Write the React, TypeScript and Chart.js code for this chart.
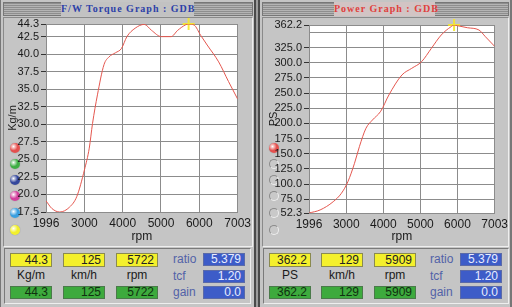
import React, { useEffect, useRef } from "react";
import { Chart, registerables } from "chart.js";

Chart.register(...registerables);

// ---- data ----
const rpmTicks = [1996, 3000, 4000, 5000, 6000, 7003];
const torqueTicks = [17.5, 20, 22.5, 25, 27.5, 30, 32.5, 35, 37.5, 40, 42.5, 44.3];
const powerTicks = [52.3, 75, 100, 125, 150, 175, 200, 225, 250, 275, 300, 325, 350, 362.2];
const powerUnlabelled = [350];

const torqueRpm = [1996, 2150, 2356, 2612, 2800, 3000, 3126, 3211, 3340, 3511, 3640, 3811, 3966, 4110, 4325, 4564, 4752, 5008, 5265, 5437, 5650, 5722, 5866, 6035, 6207, 6507, 6764, 7003];
const torqueVals = [19.1, 18.0, 17.5, 18.2, 19.7, 23.5, 26.6, 30.1, 34.2, 38.5, 39.6, 40.2, 40.8, 42.5, 43.7, 44.25, 43.4, 42.5, 42.5, 43.4, 44.2, 44.3, 44.15, 42.7, 41.3, 38.9, 36.1, 33.6];

const powerRpm = [1996, 2295, 2648, 2870, 3045, 3223, 3355, 3532, 3707, 3930, 4150, 4502, 4767, 5032, 5297, 5562, 5827, 5909, 6004, 6269, 6579, 6754, 7003];
const powerVals = [52.3, 57.3, 70.9, 84.8, 103.9, 134.2, 161.6, 191.9, 205.6, 220, 246.8, 279.8, 290.8, 301.7, 323.8, 345.7, 359.4, 362.2, 361, 357.7, 354, 342.9, 327];

const torquePeakRpm = [5722];
const torquePeakVal = [44.3];
const powerPeakRpm = [5909];
const powerPeakVal = [362.2];

const torqueReadout = ["44.3", "125", "5722"];
const torqueUnits = ["Kg/m", "km/h", "rpm"];
const powerReadout = ["362.2", "129", "5909"];
const powerUnits = ["PS", "km/h", "rpm"];
const factorNames = ["ratio", "tcf", "gain"];
const factorValues = ["5.379", "1.20", "0.0"];

const leftDotColors = ["#e4504e", "#3fae44", "#34479c", "#d2409c", "#3a9fe0", "#f2f02a"];

const FONT = "'Liberation Sans Narrow', 'Liberation Sans', Arial, sans-serif";
const PANEL = "#c5c5c5";

const bgPlugin = {
  id: "plotBg",
  beforeDraw(chart: any) {
    const { ctx, chartArea } = chart;
    if (!chartArea) return;
    ctx.save();
    ctx.fillStyle = "#ffffff";
    ctx.fillRect(chartArea.left, chartArea.top, chartArea.right - chartArea.left, chartArea.bottom - chartArea.top);
    ctx.restore();
  },
};

type Area = { left: number; right: number; top: number; bottom: number };

function DynoChart(props: {
  width: number;
  height: number;
  area: Area;
  rpm: number[];
  vals: number[];
  peakRpm: number[];
  peakVal: number[];
  yTicks: number[];
  unlabelled: number[];
  yTitle: string;
  yTitlePad: number;
}) {
  const ref = useRef<HTMLCanvasElement | null>(null);
  useEffect(() => {
    const { width: W, height: H, area, rpm, vals, yTicks, unlabelled } = props;
    const tickFont = { family: FONT, size: 11 };
    const chart = new Chart(ref.current as HTMLCanvasElement, {
      type: "line",
      data: {
        datasets: [
          {
            data: rpm.map((x, i) => ({ x, y: vals[i] })),
            borderColor: "#e4574f",
            borderWidth: 1,
            pointRadius: 0,
            cubicInterpolationMode: "monotone",
            fill: false,
          },
          {
            data: props.peakRpm.map((x, i) => ({ x, y: props.peakVal[i] })),
            showLine: false,
            pointStyle: "cross",
            pointRadius: 6,
            pointBorderWidth: 2,
            pointBorderColor: "rgba(246,232,40,0.9)",
            pointBackgroundColor: "rgba(246,232,40,0.5)",
            clip: false,
          } as any,
        ],
      },
      options: {
        animation: false,
        responsive: false,
        maintainAspectRatio: false,
        events: [],
        layout: { padding: { top: area.top, right: W - area.right, left: 0, bottom: 0 } },
        plugins: { legend: { display: false }, tooltip: { enabled: false } },
        scales: {
          x: {
            type: "linear",
            min: rpmTicks[0],
            max: rpmTicks[rpmTicks.length - 1],
            afterBuildTicks: (s: any) => {
              s.ticks = rpmTicks.map((v) => ({ value: v }));
            },
            afterFit: (s: any) => {
              s.height = H - area.bottom;
            },
            ticks: {
              autoSkip: false,
              maxRotation: 0,
              padding: 4,
              color: "#1a1a1a",
              font: { family: FONT, size: 12 },
              callback: (v: any) => String(v),
            },
            grid: { color: "#8c8c8c", drawTicks: false, lineWidth: 1 },
            border: { display: true, color: "#8c8c8c" },
            title: {
              display: true,
              text: "rpm",
              color: "#1a1a1a",
              font: { family: FONT, size: 12 },
              padding: { top: 0, bottom: 2 },
            },
          },
          y: {
            type: "linear",
            min: yTicks[0],
            max: yTicks[yTicks.length - 1],
            afterBuildTicks: (s: any) => {
              s.ticks = yTicks.map((v) => ({ value: v }));
            },
            afterFit: (s: any) => {
              s.width = area.left;
            },
            ticks: {
              autoSkip: false,
              padding: 2,
              color: "#1a1a1a",
              font: tickFont,
              callback: (v: any) => (unlabelled.includes(Number(v)) ? "" : Number(v).toFixed(1)),
            },
            grid: {
              color: "#8c8c8c",
              lineWidth: 1,
              tickLength: 5,
              tickColor: (c: any) => (c.tick && unlabelled.includes(c.tick.value) ? "rgba(0,0,0,0)" : "#333"),
            },
            border: { display: true, color: "#8c8c8c" },
            title: {
              display: true,
              text: props.yTitle,
              color: "#1a1a1a",
              font: tickFont,
              padding: { top: props.yTitlePad, bottom: 0 },
            },
          },
        },
      } as any,
      plugins: [bgPlugin],
    });
    return () => chart.destroy();
  }, []);
  return (
    <canvas
      ref={ref}
      width={props.width}
      height={props.height}
      style={{ width: props.width, height: props.height, display: "block" }}
    />
  );
}

const abs = (l: number, t: number, w: number, h: number, extra: any = {}) => ({
  position: "absolute" as const,
  left: l,
  top: t,
  width: w,
  height: h,
  boxSizing: "border-box" as const,
  ...extra,
});

function Readouts(props: {
  x0: number;
  boxLefts: number[];
  labelX: number;
  blueX: number;
  values: string[];
  units: string[];
}) {
  const numStyle = { fontFamily: FONT, fontSize: 12, textAlign: "right" as const, paddingRight: 3, lineHeight: "12px" };
  const items: any[] = [];
  props.boxLefts.forEach((bl, i) => {
    items.push(
      <div key={"y" + i} style={abs(bl, 253, 42, 14, { ...numStyle, background: "#f4f02c", color: "#222", border: "1px solid #8a8a50", lineHeight: "12px" })}>
        {props.values[i]}
      </div>
    );
    items.push(
      <div key={"u" + i} style={abs(bl, 268, 42, 14, { fontFamily: FONT, fontSize: 12, textAlign: "center", color: "#1a1a1a", lineHeight: "14px" })}>
        {props.units[i]}
      </div>
    );
    items.push(
      <div key={"g" + i} style={abs(bl, 286, 42, 13, { ...numStyle, background: "#3daa3d", color: "#103010", border: "1px solid #4a7a4a", lineHeight: "11px" })}>
        {props.values[i]}
      </div>
    );
  });
  const tops = [253, 270, 286];
  factorNames.forEach((n, i) => {
    items.push(
      <div key={"n" + i} style={abs(props.labelX, tops[i], 30, 13, { fontFamily: FONT, fontSize: 12, color: "#5262a8", lineHeight: "13px" })}>
        {n}
      </div>
    );
    items.push(
      <div key={"b" + i} style={abs(props.blueX, tops[i], 42, 13, { ...numStyle, background: "#3d5cc8", color: "#e8ecff", border: "1px solid #5a6aa8", lineHeight: "11px" })}>
        {factorValues[i]}
      </div>
    );
  });
  return <>{items}</>;
}

function Dot(props: { x: number; y: number; color?: string }) {
  const r = 5;
  if (props.color) {
    return (
      <div
        style={abs(props.x - r, props.y - r, r * 2, r * 2, {
          borderRadius: "50%",
          background: `radial-gradient(circle at 35% 35%, #ffffff 0, ${props.color} 45%, ${props.color} 100%)`,
          boxShadow: "0 0 1px rgba(0,0,0,0.4)",
        })}
      />
    );
  }
  return (
    <div
      style={abs(props.x - r, props.y - r, r * 2, r * 2, {
        borderRadius: "50%",
        border: "1px solid #8a8a8a",
        borderBottomColor: "#eee",
        borderRightColor: "#eee",
        background: "#c9c9c9",
      })}
    />
  );
}

export default function App() {
  useEffect(() => {
    document.body.style.margin = "0";
  }, []);
  const dotYs = [148, 164, 180, 196, 213, 230];
  const stripes = "repeating-linear-gradient(to bottom, #8e8e8e 0px, #8e8e8e 1px, #b4b4b4 1px, #b4b4b4 2px)";
  return (
    <div style={{ position: "fixed", left: 0, top: 0, width: 512, height: 307, background: "#9c9c9c", overflow: "hidden" }}>
      {/* panels */}
      <div style={abs(0, 0, 256, 307, { background: PANEL, borderRight: "2px solid #4a4a4a", borderLeft: "1px solid #777" })} />
      <div style={abs(258, 0, 254, 307, { background: PANEL, borderLeft: "2px solid #4a4a4a", borderRight: "2px solid #777" })} />

      {/* title bars */}
      <div style={abs(3, 2, 250, 14, { background: stripes, border: "1px solid #777" })} />
      <div style={abs(61, 2, 133, 14, {
        background: "#c2c2c2", color: "#2c40a8", fontFamily: "'Liberation Serif', 'DejaVu Serif', serif",
        fontWeight: "bold", fontSize: 10, letterSpacing: 1, textAlign: "center", lineHeight: "14px", whiteSpace: "nowrap",
      })}>F/W Torque Graph : GDB</div>

      <div style={abs(262, 2, 247, 14, { background: stripes, border: "1px solid #777" })} />
      <div style={abs(334, 2, 101, 14, {
        background: "#d2c4c4", color: "#e0403c", fontFamily: "'Liberation Serif', 'DejaVu Serif', serif",
        fontWeight: "bold", fontSize: 10, letterSpacing: 1, textAlign: "center", lineHeight: "14px", whiteSpace: "nowrap",
      })}>Power Graph : GDB</div>

      {/* chart frames */}
      <div style={abs(3, 17, 250, 230, { border: "1px solid #8a8a8a", borderRightColor: "#eee", borderBottomColor: "#eee" })} />
      <div style={abs(262, 17, 247, 230, { border: "1px solid #8a8a8a", borderRightColor: "#eee", borderBottomColor: "#eee" })} />

      {/* dots */}
      {dotYs.map((y, i) => <Dot key={"l" + i} x={15} y={y} color={leftDotColors[i]} />)}
      {dotYs.map((y, i) => <Dot key={"r" + i} x={274} y={y} color={i === 0 ? "#e4504e" : undefined} />)}

      {/* charts */}
      <div style={abs(0, 0, 255, 246)}>
        <DynoChart
          width={255}
          height={246}
          area={{ left: 46, right: 241, top: 24, bottom: 212 }}
          rpm={torqueRpm}
          vals={torqueVals}
          peakRpm={torquePeakRpm}
          peakVal={torquePeakVal}
          yTicks={torqueTicks}
          unlabelled={[]}
          yTitle="Kg/m"
          yTitlePad={6}
        />
      </div>
      <div style={abs(256, 0, 256, 246)}>
        <DynoChart
          width={256}
          height={246}
          area={{ left: 53, right: 242, top: 25, bottom: 213 }}
          rpm={powerRpm}
          vals={powerVals}
          peakRpm={powerPeakRpm}
          peakVal={powerPeakVal}
          yTicks={powerTicks}
          unlabelled={powerUnlabelled}
          yTitle="PS"
          yTitlePad={11}
        />
      </div>

      {/* readout panels */}
      <div style={abs(4, 248, 247, 56, { border: "1px solid #7a7a7a", borderRightColor: "#eee", borderBottomColor: "#eee" })} />
      <div style={abs(263, 248, 246, 56, { border: "1px solid #7a7a7a", borderRightColor: "#eee", borderBottomColor: "#eee" })} />
      <Readouts x0={0} boxLefts={[10, 63, 116]} labelX={173} blueX={203} values={torqueReadout} units={torqueUnits} />
      <Readouts x0={256} boxLefts={[269, 321, 374]} labelX={430} blueX={460} values={powerReadout} units={powerUnits} />
    </div>
  );
}
